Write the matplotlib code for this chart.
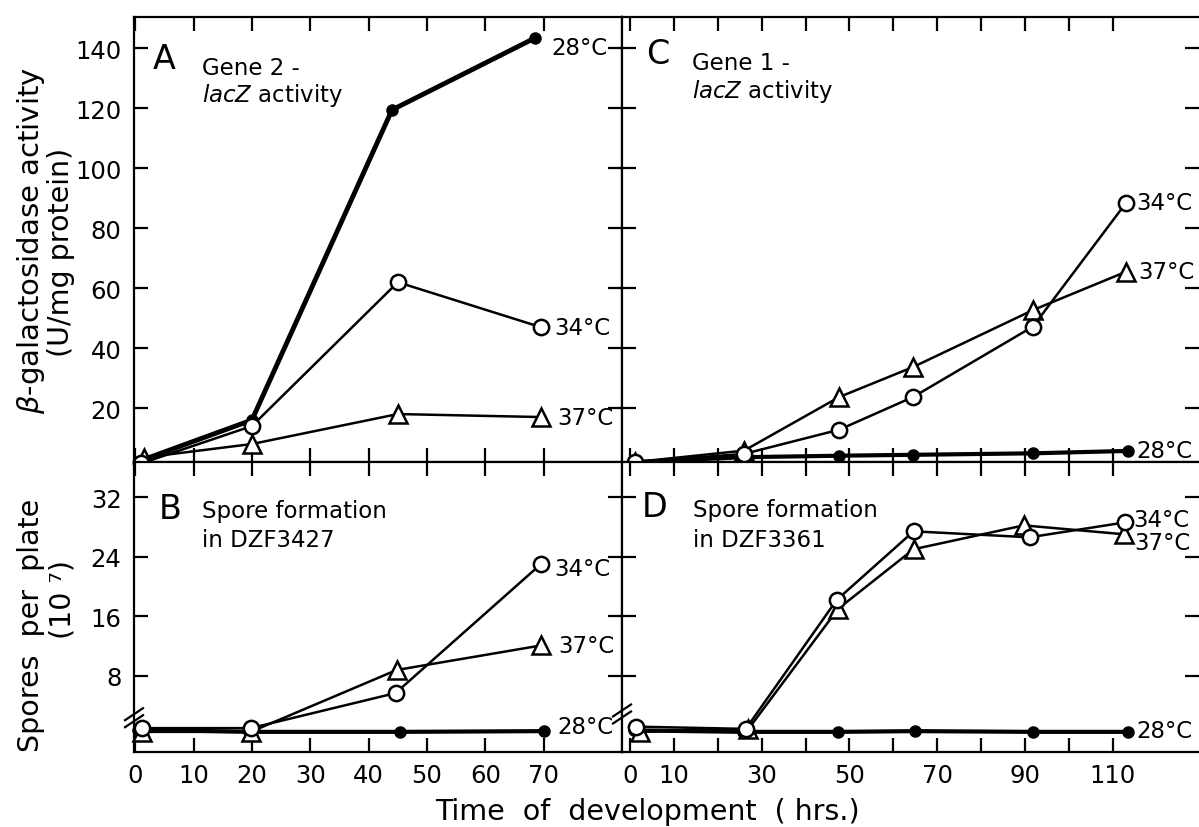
import matplotlib
matplotlib.use("Agg")
import matplotlib.pyplot as plt
from matplotlib.ticker import FixedLocator, FixedFormatter

# ---------------- data ----------------
# Panel A: Gene 2 - lacZ activity (U/mg protein)
a_t28 = [1, 20, 44, 68.5]
a_y28 = [2.5, 16, 119.5, 143.5]
a_t34 = [1, 20, 45, 69.5]
a_y34 = [1.5, 14, 62, 47]
a_t37 = [1.5, 20, 45, 69.5]
a_y37 = [3.5, 8, 18, 17]

# Panel B: spore formation in DZF3427 (10^7 per plate)
b_t34 = [1.2, 19.8, 44.6, 69.5]
b_y34 = [1.0, 1.0, 5.7, 23.0]
b_t37 = [1.2, 19.8, 44.8, 69.6]
b_y37 = [0.5, 0.5, 8.8, 12.1]
b_t28 = [0.5, 19.5, 45.3, 70]
b_y28 = [0.8, 0.5, 0.5, 0.6]

# Panel C: Gene 1 - lacZ activity
c_t34 = [1.2, 26, 47.7, 64.5, 91.8, 113]
c_y34 = [2, 4.7, 12.8, 23.7, 47.2, 88.5]
c_t37 = [1.2, 26, 47.7, 64.5, 91.8, 113]
c_y37 = [2, 5.8, 23.7, 33.7, 52.7, 65.5]
c_t28 = [1.2, 26, 47.7, 64.5, 91.8, 113.5]
c_y28 = [2, 3.6, 4.1, 4.4, 4.9, 5.7]

# Panel D: spore formation in DZF3361
d_t34 = [1.5, 26.4, 47.1, 64.6, 91, 112.8]
d_y34 = [1.2, 0.9, 18.2, 27.4, 26.6, 28.6]
d_t37 = [2.3, 27, 47.4, 64.6, 89.7, 112.6]
d_y37 = [0.5, 0.9, 17.0, 25.0, 28.2, 27.0]
d_t28 = [1, 25.8, 47.4, 64.9, 91.9, 113.4]
d_y28 = [0.7, 0.5, 0.5, 0.6, 0.5, 0.5]

left_xticks = [0, 10, 20, 30, 40, 50, 60, 70]
left_xlabels = ["0", "10", "20", "30", "40", "50", "60", "70"]
right_xticks = [0, 10, 20, 30, 40, 50, 60, 70, 80, 90, 100, 110]
right_xlabels = ["0", "10", "", "30", "", "50", "", "70", "", "90", "", "110"]
act_yticks = [20, 40, 60, 80, 100, 120, 140]
act_ylabels = ["20", "40", "60", "80", "100", "120", "140"]
spore_yticks = [8, 16, 24, 32]
spore_ylabels = ["8", "16", "24", "32"]

# ---------------- figure ----------------
W, H = 1199, 828
fig = plt.figure(figsize=(W / 100, H / 100), dpi=100)
plt.rcParams["font.family"] = ["DejaVu Sans"]
plt.rcParams["mathtext.fontset"] = "dejavusans"

xL, xM, xR = 134, 622, 1199
yT, yM, yB = 18, 463, 753


def box(x0, x1, y0, y1):
    return [x0 / W, 1 - y1 / H, (x1 - x0) / W, (y1 - y0) / H]


axA = fig.add_axes(box(xL, xM, yT, yM))
axB = fig.add_axes(box(xL, xM, yM, yB))
axC = fig.add_axes(box(xM, xR, yT, yM))
axD = fig.add_axes(box(xM, xR, yM, yB))

TICK_FS = 17.5
LBL_FS = 16.5

for ax in (axA, axB, axC, axD):
    for s in ax.spines.values():
        s.set_linewidth(1.6)
    ax.tick_params(direction="in", length=10, width=1.6, top=True, right=True,
                   labelsize=TICK_FS, pad=9, colors="black")

for ax in (axC, axD):
    ax.spines["right"].set_visible(False)

# limits
axA.set_xlim(-0.2, 83.4)
axB.set_xlim(-0.2, 83.4)
axC.set_xlim(-1.8, 129.6)
axD.set_xlim(-1.8, 129.6)
axA.set_ylim(2, 150.5)
axC.set_ylim(2, 150.5)
axB.set_ylim(-2.2, 36.7)
axD.set_ylim(-2.2, 36.7)

for ax in (axA, axB):
    ax.xaxis.set_major_locator(FixedLocator(left_xticks))
    ax.xaxis.set_major_formatter(FixedFormatter(left_xlabels))
for ax in (axC, axD):
    ax.xaxis.set_major_locator(FixedLocator(right_xticks))
    ax.xaxis.set_major_formatter(FixedFormatter(right_xlabels))
for ax in (axA, axC):
    ax.yaxis.set_major_locator(FixedLocator(act_yticks))
    ax.yaxis.set_major_formatter(FixedFormatter(act_ylabels))
    ax.tick_params(labelbottom=False)
for ax in (axB, axD):
    ax.yaxis.set_major_locator(FixedLocator(spore_yticks))
    ax.yaxis.set_major_formatter(FixedFormatter(spore_ylabels))
for ax in (axC, axD):
    ax.tick_params(labelleft=False)
axB.tick_params(axis="x", pad=8)
axD.tick_params(axis="x", pad=8)

# styles
s28 = dict(color="black", marker="o", ms=8, mfc="black", mec="black", lw=3.0,
           clip_on=False, zorder=4)
s34 = dict(color="black", marker="o", ms=11, mfc="white", mec="black", mew=1.8,
           lw=1.8, clip_on=False, zorder=5)
s37 = dict(color="black", marker="^", ms=13, mfc="white", mec="black", mew=1.8,
           lw=1.8, clip_on=False, zorder=5)


def lab(ax, x, y, txt, dx, dy):
    ax.annotate(txt, (x, y), xytext=(dx, dy), textcoords="offset points",
                ha="left", va="center", fontsize=LBL_FS, annotation_clip=False)


# Panel A
axA.plot(a_t37, a_y37, **s37)
axA.plot(a_t34, a_y34, **s34)
axA.plot(a_t28, a_y28, **dict(s28, lw=3.5))
lab(axA, a_t28[-1], a_y28[-1], "28°C", 12, -7)
lab(axA, a_t34[-1], a_y34[-1], "34°C", 10, 0)
lab(axA, a_t37[-1], a_y37[-1], "37°C", 12, 0)

# Panel B
axB.plot(b_t28, b_y28, **s28)
axB.plot(b_t37, b_y37, **s37)
axB.plot(b_t34, b_y34, **s34)
lab(axB, b_t34[-1], b_y34[-1], "34°C", 10, -3)
lab(axB, b_t37[-1], b_y37[-1], "37°C", 12, 0)
lab(axB, b_t28[-1], b_y28[-1], "28°C", 10, 3)

# Panel C
axC.plot(c_t28, c_y28, **s28)
axC.plot(c_t37, c_y37, **s37)
axC.plot(c_t34, c_y34, **s34)
lab(axC, c_t34[-1], c_y34[-1], "34°C", 7, 0)
lab(axC, c_t37[-1], c_y37[-1], "37°C", 9, 0)
lab(axC, c_t28[-1], c_y28[-1], "28°C", 6, 0)

# Panel D
axD.plot(d_t28, d_y28, **s28)
axD.plot(d_t37, d_y37, **s37)
axD.plot(d_t34, d_y34, **s34)
lab(axD, d_t34[-1], d_y34[-1], "34°C", 6, 2)
lab(axD, d_t37[-1], d_y37[-1], "37°C", 7, -6)
lab(axD, d_t28[-1], d_y28[-1], "28°C", 6, 1)

# panel texts
PAN_FS = 24
axA.text(0.0615, 0.906, "A", transform=axA.transAxes, fontsize=PAN_FS, ha="center", va="center")
axA.text(0.139, 0.872, "Gene 2 -", transform=axA.transAxes, fontsize=LBL_FS, va="baseline")
axA.text(0.139, 0.811, r"$\it{lacZ}$ activity", transform=axA.transAxes, fontsize=LBL_FS, va="baseline")

axC.text(0.0624, 0.917, "C", transform=axC.transAxes, fontsize=PAN_FS, ha="center", va="center")
axC.text(0.121, 0.883, "Gene 1 -", transform=axC.transAxes, fontsize=LBL_FS, va="baseline")
axC.text(0.121, 0.820, r"$\it{lacZ}$ activity", transform=axC.transAxes, fontsize=LBL_FS, va="baseline")

axB.text(0.074, 0.838, "B", transform=axB.transAxes, fontsize=PAN_FS, ha="center", va="center")
axB.text(0.139, 0.810, "Spore formation", transform=axB.transAxes, fontsize=LBL_FS, va="baseline")
axB.text(0.139, 0.710, "in DZF3427", transform=axB.transAxes, fontsize=LBL_FS, va="baseline")

axD.text(0.057, 0.845, "D", transform=axD.transAxes, fontsize=PAN_FS, ha="center", va="center")
axD.text(0.123, 0.814, "Spore formation", transform=axD.transAxes, fontsize=LBL_FS, va="baseline")
axD.text(0.123, 0.710, "in DZF3361", transform=axD.transAxes, fontsize=LBL_FS, va="baseline")


# axis break marks on spore panels
def brk(ax, wpx, hpx, ybrk):
    y0, y1 = ax.get_ylim()
    yc = (ybrk - y0) / (y1 - y0)
    dx = 9 / wpx
    dy = 6 / hpx
    for off in (-3.5 / hpx, 3.5 / hpx):
        ax.plot([-dx, dx], [yc + off - dy, yc + off + dy], transform=ax.transAxes,
                color="black", lw=1.6, clip_on=False, zorder=6)


brk(axB, xM - xL, yB - yM, 2.4)
brk(axD, xR - xM, yB - yM, 2.9)

# axis labels
fig.text(31 / W, 1 - 240 / H, r"$\beta$-galactosidase activity", rotation=90,
         ha="center", va="center", fontsize=21)
fig.text(61 / W, 1 - 252 / H, "(U/mg protein)", rotation=90,
         ha="center", va="center", fontsize=20.5)
fig.text(31 / W, 1 - 625 / H, "Spores  per  plate", rotation=90,
         ha="center", va="center", fontsize=20.5)
fig.text(63 / W, 1 - 600 / H, "(10 \u2077)", rotation=90,
         ha="center", va="center", fontsize=20.5)
fig.text(647 / W, 1 - 812 / H, "Time  of  development  ( hrs.)",
         ha="center", va="center", fontsize=20.5)

fig.savefig("out.png", dpi=100, facecolor="white")
